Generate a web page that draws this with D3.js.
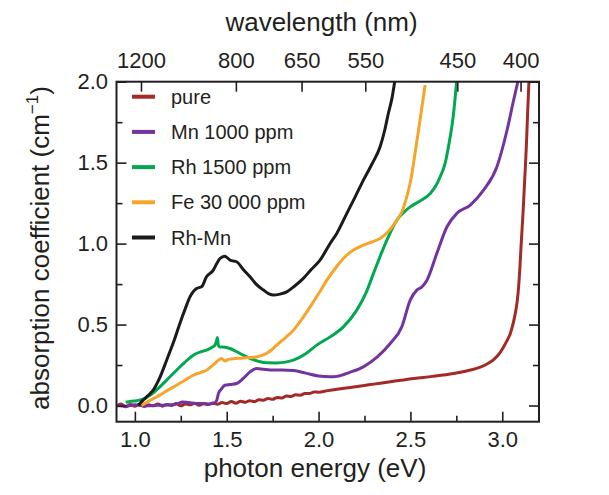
<!DOCTYPE html>
<html lang="en">

<head>
    <meta charset="UTF-8">
    <title>absorption</title>
    <script src="https://cdn.jsdelivr.net/npm/d3@7"></script>
    <style>
        body { margin: 0; background: #fff; }
        text { font-family: "Liberation Sans", Arial, Helvetica, sans-serif; fill: #231f20; }
    </style>
</head>

<body>
    <script>
        // data: [photon energy (eV), absorption coefficient (cm^-1)]
        let pure = [[0.900, -0.005], [0.925, 0.010], [0.950, -0.008], [0.975, 0.006], [1.000, -0.004],
            [1.025, 0.008], [1.050, -0.006], [1.075, 0.004], [1.100, -0.002], [1.125, 0.010],
            [1.150, -0.004], [1.175, 0.007], [1.200, 0.000], [1.225, 0.012], [1.250, -0.002],
            [1.275, 0.010], [1.300, 0.004], [1.325, 0.014], [1.350, 0.002], [1.375, 0.012],
            [1.400, 0.006], [1.425, 0.016], [1.450, 0.008], [1.475, 0.018], [1.500, 0.012],
            [1.525, 0.024], [1.550, 0.014], [1.575, 0.026], [1.600, 0.020], [1.625, 0.030],
            [1.650, 0.024], [1.675, 0.036], [1.700, 0.032], [1.725, 0.044], [1.750, 0.038],
            [1.775, 0.050], [1.800, 0.046], [1.825, 0.058], [1.850, 0.056], [1.875, 0.066],
            [1.900, 0.064], [1.925, 0.074], [1.950, 0.074], [1.975, 0.084], [2.000, 0.082],
            [2.050, 0.092], [2.100, 0.100], [2.150, 0.108], [2.200, 0.116], [2.250, 0.124],
            [2.300, 0.132], [2.400, 0.148], [2.520, 0.167], [2.620, 0.180], [2.735, 0.198],
            [2.800, 0.212], [2.860, 0.229], [2.910, 0.252], [2.950, 0.280], [2.980, 0.315],
            [3.007, 0.362], [3.030, 0.410], [3.044, 0.445], [3.060, 0.510], [3.071, 0.569],
            [3.082, 0.650], [3.089, 0.733], [3.096, 0.850], [3.102, 0.980], [3.113, 1.187],
            [3.122, 1.392], [3.131, 1.598], [3.138, 1.805], [3.146, 2.020]];

        let mn = [[0.90, 0.000], [0.95, -0.004], [1.00, 0.004], [1.05, -0.002], [1.10, 0.000],
            [1.15, 0.002], [1.20, 0.004], [1.23, 0.010], [1.26, 0.022], [1.29, 0.018],
            [1.32, 0.014], [1.36, 0.012], [1.40, 0.010], [1.43, 0.014], [1.445, 0.030],
            [1.455, 0.075], [1.47, 0.100], [1.49, 0.125], [1.52, 0.130], [1.554, 0.136],
            [1.59, 0.167], [1.627, 0.208], [1.663, 0.229], [1.70, 0.224], [1.736, 0.220],
            [1.80, 0.220], [1.863, 0.216], [1.93, 0.200], [2.00, 0.182], [2.063, 0.177],
            [2.10, 0.180], [2.17, 0.205], [2.244, 0.239], [2.32, 0.300], [2.39, 0.383],
            [2.453, 0.486], [2.499, 0.651], [2.535, 0.713], [2.56, 0.730], [2.59, 0.774],
            [2.644, 0.940], [2.699, 1.104], [2.753, 1.187], [2.826, 1.238], [2.898, 1.330],
            [2.971, 1.475], [3.026, 1.700], [3.062, 1.887], [3.089, 2.020]];

        let rh = [[0.95, 0.020], [0.98, 0.026], [1.01, 0.030], [1.045, 0.040], [1.09, 0.070],
            [1.136, 0.115], [1.18, 0.165], [1.227, 0.218], [1.27, 0.265], [1.318, 0.311],
            [1.36, 0.332], [1.39, 0.342], [1.42, 0.360], [1.436, 0.373], [1.445, 0.400],
            [1.449, 0.420], [1.455, 0.370], [1.463, 0.362], [1.49, 0.360], [1.518, 0.352],
            [1.55, 0.335], [1.59, 0.311], [1.63, 0.290], [1.681, 0.270], [1.72, 0.264],
            [1.772, 0.263], [1.82, 0.268], [1.863, 0.280], [1.93, 0.320], [1.99, 0.373],
            [2.063, 0.424], [2.135, 0.486], [2.208, 0.589], [2.26, 0.700], [2.299, 0.816],
            [2.372, 1.022], [2.426, 1.145], [2.47, 1.200], [2.499, 1.227], [2.55, 1.262],
            [2.608, 1.310], [2.64, 1.360], [2.662, 1.413], [2.69, 1.500], [2.707, 1.598],
            [2.735, 1.805], [2.753, 2.020]];

        let fe = [[1.036, 0.000], [1.08, 0.030], [1.136, 0.064], [1.18, 0.095], [1.227, 0.125],
            [1.27, 0.155], [1.318, 0.187], [1.36, 0.205], [1.39, 0.218], [1.42, 0.245],
            [1.445, 0.270], [1.472, 0.290], [1.49, 0.275], [1.51, 0.285], [1.545, 0.290],
            [1.58, 0.292], [1.627, 0.296], [1.66, 0.300], [1.70, 0.312], [1.74, 0.340],
            [1.772, 0.373], [1.82, 0.420], [1.863, 0.465], [1.91, 0.535], [1.954, 0.609],
            [2.00, 0.690], [2.045, 0.774], [2.10, 0.860], [2.135, 0.908], [2.19, 0.960],
            [2.244, 0.990], [2.29, 1.010], [2.335, 1.032], [2.38, 1.075], [2.426, 1.145],
            [2.455, 1.200], [2.48, 1.289], [2.50, 1.380], [2.517, 1.496], [2.544, 1.700],
            [2.571, 1.908], [2.58, 1.980]];

        let rhmn = [[1.018, 0.000], [1.045, 0.033], [1.07, 0.060], [1.10, 0.095], [1.135, 0.170],
            [1.173, 0.280], [1.21, 0.390], [1.245, 0.507], [1.275, 0.600], [1.30, 0.671],
            [1.336, 0.723], [1.363, 0.733], [1.39, 0.795], [1.427, 0.836], [1.445, 0.875],
            [1.463, 0.908], [1.49, 0.922], [1.518, 0.898], [1.554, 0.888], [1.59, 0.840],
            [1.627, 0.795], [1.66, 0.750], [1.70, 0.713], [1.73, 0.690], [1.754, 0.682],
            [1.79, 0.688], [1.827, 0.702], [1.87, 0.738], [1.917, 0.785], [1.96, 0.840],
            [2.008, 0.898], [2.063, 1.001], [2.099, 1.063], [2.154, 1.187], [2.20, 1.290],
            [2.244, 1.392], [2.29, 1.490], [2.335, 1.598], [2.36, 1.700], [2.38, 1.805],
            [2.40, 1.900], [2.417, 2.020]];

        let series = [
            { name: 'pure', values: pure, color: '#a32a26' },
            { name: 'Mn 1000 ppm', values: mn, color: '#7434a0' },
            { name: 'Rh 1500 ppm', values: rh, color: '#00a84f' },
            { name: 'Fe 30 000 ppm', values: fe, color: '#f5a52a' },
            { name: 'Rh-Mn', values: rhmn, color: '#1c1a1b' }
        ];

        let energyMajor = [1.0, 1.5, 2.0, 2.5, 3.0];
        let energyMinor = [1.25, 1.75, 2.25, 2.75];
        let alphaMajor = [0, 0.5, 1.0, 1.5, 2.0];
        let alphaMinor = [0.25, 0.75, 1.25, 1.75];
        let wavelengths = [1200, 800, 650, 550, 450, 400];   // nm, top axis

        let W = 609, H = 495;
        let mL = 116.5, mR = 539, mT = 81.7, mB = 421.7;

        let x = d3.scaleLinear().domain([0.9, 3.2]).range([mL, mR]);
        let y = d3.scaleLinear().domain([-0.1, 2.0]).range([mB, mT]);

        let svg = d3.select('body').append('svg')
            .attr('width', W)
            .attr('height', H);

        svg.append('clipPath').attr('id', 'plot')
            .append('rect')
            .attr('x', mL).attr('y', mT)
            .attr('width', mR - mL).attr('height', mB - mT);

        // curves
        let line = d3.line()
            .x(d => x(d[0]))
            .y(d => y(d[1]))
            .curve(d3.curveMonotoneX);

        svg.append('g').attr('clip-path', 'url(#plot)')
            .selectAll('path').data(series)
            .enter()
            .append('path')
            .attr('d', d => line(d.values))
            .attr('fill', 'none')
            .attr('stroke', d => d.color)
            .attr('stroke-width', 3)
            .attr('stroke-linejoin', 'round');

        // axes, ticks pointing inward
        function style(g, size) {
            g.select('.domain').remove();
            g.selectAll('.tick line').attr('stroke', '#231f20').attr('stroke-width', 1.6);
            g.selectAll('.tick text').attr('font-size', size).attr('fill', '#231f20')
                .attr('font-family', '"Liberation Sans", Arial, sans-serif');
        }

        svg.append('g').attr('transform', `translate(0,${mB})`)
            .call(d3.axisBottom(x).tickValues(energyMajor).tickSize(-10).tickPadding(10).tickFormat(d3.format('.1f')))
            .call(g => style(g, 22));
        svg.append('g').attr('transform', `translate(0,${mB})`)
            .call(d3.axisBottom(x).tickValues(energyMinor).tickSize(-6).tickFormat(''))
            .call(g => style(g, 22));

        svg.append('g').attr('transform', `translate(${mL},0)`)
            .call(d3.axisLeft(y).tickValues(alphaMajor).tickSize(-10).tickPadding(8.5).tickFormat(d3.format('.1f')))
            .call(g => style(g, 22));
        svg.append('g').attr('transform', `translate(${mL},0)`)
            .call(d3.axisLeft(y).tickValues(alphaMinor).tickSize(-6).tickFormat(''))
            .call(g => style(g, 22));

        svg.append('g').attr('transform', `translate(${mR},0)`)
            .call(d3.axisRight(y).tickValues(alphaMajor).tickSize(-10).tickFormat(''))
            .call(g => style(g, 22));
        svg.append('g').attr('transform', `translate(${mR},0)`)
            .call(d3.axisRight(y).tickValues(alphaMinor).tickSize(-6).tickFormat(''))
            .call(g => style(g, 22));

        // top axis: wavelength, E = 1239.84 / lambda
        svg.append('g').attr('transform', `translate(0,${mT})`)
            .call(d3.axisTop(x).tickValues(wavelengths.map(l => 1239.84 / l)).tickSize(-10).tickPadding(14)
                .tickFormat((d, i) => wavelengths[i]))
            .call(g => style(g, 22));

        // frame
        svg.append('rect')
            .attr('x', mL).attr('y', mT)
            .attr('width', mR - mL).attr('height', mB - mT)
            .attr('fill', 'none')
            .attr('stroke', '#231f20')
            .attr('stroke-width', 2);

        // titles
        svg.append('text')
            .attr('x', 315).attr('y', 477)
            .attr('text-anchor', 'middle')
            .attr('font-size', 26)
            .text('photon energy (eV)');

        svg.append('text')
            .attr('x', 321.5).attr('y', 30.5)
            .attr('text-anchor', 'middle')
            .attr('font-size', 26)
            .text('wavelength (nm)');

        let yt = svg.append('text')
            .attr('transform', 'translate(49,248) rotate(-90)')
            .attr('text-anchor', 'middle')
            .attr('font-size', 26);
        yt.append('tspan').text('absorption coefficient (cm');
        yt.append('tspan').attr('font-size', 17).attr('dy', -11).text('\u22121');
        yt.append('tspan').attr('dy', 11).text(')');

        // legend
        let legend = svg.append('g').selectAll('g').data(series)
            .enter()
            .append('g')
            .attr('transform', (d, i) => `translate(0,${96.7 + i * 35.2})`);
        legend.append('line')
            .attr('x1', 132).attr('x2', 155)
            .attr('stroke', d => d.color)
            .attr('stroke-width', 4);
        legend.append('text')
            .attr('x', 171).attr('dy', '0.35em')
            .attr('font-size', 20)
            .text(d => d.name);
    </script>
</body>

</html>
